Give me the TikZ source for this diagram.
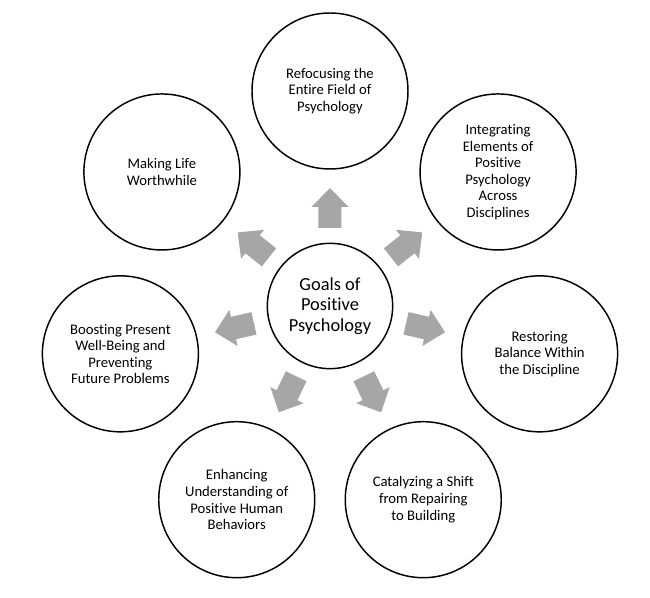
\documentclass[tikz,border=0pt]{standalone}
\usepackage{fontspec}
\setmainfont[Ligatures=CommonOff]{Carlito}
\usepackage{tikz}
\definecolor{arrowgray}{HTML}{A6A6A6}

\begin{document}
\begin{tikzpicture}[line cap=round,line join=round,x=0.75pt,y=0.75pt,
  goal/.style={circle,draw,line width=1.1pt,minimum size=117pt,inner sep=0pt,align=center,font=\fontsize{11}{12.4}\selectfont},
  hub/.style={circle,draw,line width=1.1pt,minimum size=94pt,inner sep=0pt,align=center,font=\fontsize{13.8}{15.2}\selectfont}]
\useasboundingbox (-330,-292) rectangle (320,306);
\node[hub] (hub) at (0,0) {Goals of\\Positive\\Psychology};
\node[goal] (refocus) at (90:215) {Refocusing the\\Entire Field of\\Psychology};
\node[goal] (integrate) at (38.57:215) {Integrating\\Elements of\\Positive\\Psychology\\Across\\Disciplines};
\node[goal] (restore) at (-12.86:215) {Restoring\\Balance Within\\the Discipline};
\node[goal] (shift) at (-64.29:215) {Catalyzing a Shift\\from Repairing\\to Building};
\node[goal] (enhance) at (-115.71:215) {Enhancing\\Understanding of\\Positive Human\\Behaviors};
\node[goal] (boost) at (-167.14:215) {Boosting Present\\Well-Being and\\Preventing\\Future Problems};
\node[goal] (worth) at (141.43:215) {Making Life\\Worthwhile};
% block arrows from the hub
\foreach \a in {90,38.57,-12.86,-64.29,-115.71,-167.14,141.43}{
\begin{scope}[rotate=\a]
\fill[arrowgray] (78,-11.5)--(99,-11.5)--(99,-18.5)--(118,0)--(99,18.5)--(99,11.5)--(78,11.5)--cycle;
\end{scope}
}
\end{tikzpicture}
\end{document}
